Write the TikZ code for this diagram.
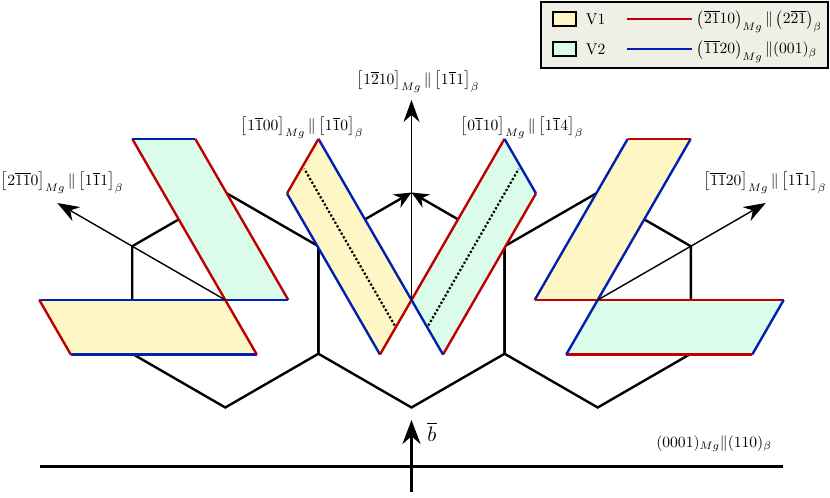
\documentclass[tikz,border=0pt]{standalone}
\usetikzlibrary{arrows.meta,calc}
\definecolor{vonefill}{HTML}{FFF6C6}
\definecolor{vtwofill}{HTML}{DCFCEB}
\definecolor{edgered}{HTML}{C00000}
\definecolor{edgeblue}{HTML}{0020B0}
\definecolor{legendfill}{HTML}{EEF0E6}
\begin{document}
\begin{tikzpicture}[x=0.5pt,y=0.5pt,
  hexline/.style={line width=1.2pt},
  hexarrow/.style={line width=1.2pt,-{Stealth[length=8.5pt,width=7.5pt]}},
  thinarrow/.style={line width=0.7pt,-{Stealth[length=11pt,width=8pt]}},
  thickline/.style={line width=1.6pt},
  plateedge/.style={line width=1.2pt},
  midline/.style={line width=1.1pt,densely dotted,shorten <=1pt,shorten >=1.5pt},
  lab/.style={inner sep=1pt,scale=0.78}]
\useasboundingbox (0,0) rectangle (830,498);

% hexagon centres and corners
\coordinate (cl) at (225.3,198);
\coordinate (cc) at (411.5,198);
\coordinate (cr) at (597.7,198);
\foreach \h in {cl,cc,cr}
  \foreach \a in {30,90,...,330}
    \coordinate (\h-\a) at ($(\h)+(\a:107.5)$);

\draw[hexline] (cl-30) -- (cl-90) -- (cl-150) -- (cl-210) -- (cl-270) -- (cl-330) -- cycle;
\draw[hexline] (cr-30) -- (cr-90) -- (cr-150) -- (cr-210) -- (cr-270) -- (cr-330) -- cycle;
\draw[hexline] (cc-150) -- (cc-210) -- (cc-270) -- (cc-330) -- (cc-30);
\draw[hexarrow] (cc-150) -- (cc-90);
\draw[hexarrow] (cc-30) -- (cc-90);

% plates: centre/long dir/short dir/fill/long edge/short edge
\def\plates{cl/120/0/vtwofill/edgered/edgeblue, cl/180/-60/vonefill/edgeblue/edgered,
  cc/120/240/vonefill/edgeblue/edgered, cc/60/300/vtwofill/edgered/edgeblue,
  cr/60/180/vonefill/edgeblue/edgered, cr/0/240/vtwofill/edgered/edgeblue}
\foreach \c/\l/\s/\f/\le/\se in \plates
  \fill[\f] (\c) -- ($(\c)+(\l:186)$) -- ($(\c)+(\l:186)+(\s:63)$) -- ($(\c)+(\s:63)$) -- cycle;
\foreach \c/\l/\s/\f/\le/\se in \plates{
  \draw[plateedge,draw=\le] (\c) -- ($(\c)+(\l:186)$) ($(\c)+(\s:63)$) -- ($(\c)+(\l:186)+(\s:63)$);
  \draw[plateedge,draw=\se] (\c) -- ($(\c)+(\s:63)$) ($(\c)+(\l:186)$) -- ($(\c)+(\l:186)+(\s:63)$);
}
\draw[midline] ($(cc)+(240:31.5)$) -- ($(cc)+(240:31.5)+(120:186)$);
\draw[midline] ($(cc)+(300:31.5)$) -- ($(cc)+(300:31.5)+(60:186)$);

% directions
\coordinate (tl) at ($(cl)+(150:194)$);
\coordinate (tc) at ($(cc)+(90:200)$);
\coordinate (tr) at ($(cr)+(30:194)$);
\draw[thinarrow] (cl) -- (tl);
\draw[thinarrow] (cc) -- (tc);
\draw[thinarrow] (cr) -- (tr);
\node[lab] (labl) at (62,315) {$\left[2\overline{11}0\right]_{Mg}\|\left[1\overline{1}1\right]_\beta$};
\node[lab] (labc) at (418,416) {$\left[1\overline{2}10\right]_{Mg}\|\left[1\overline{1}1\right]_\beta$};
\node[lab] (labr) at (765,315) {$\left[\overline{11}20\right]_{Mg}\|\left[1\overline{1}1\right]_\beta$};
\node[lab] (labvone) at (302,370) {$\left[1\overline{1}00\right]_{Mg}\|\left[1\overline{1}0\right]_\beta$};
\node[lab] (labvtwo) at (522,370) {$\left[0\overline{1}10\right]_{Mg}\|\left[1\overline{1}4\right]_\beta$};

% basal plane and b
\coordinate (bl) at (40,31.5);
\coordinate (br) at (783,31.5);
\coordinate (bb) at (411.5,6);
\coordinate (bt) at (411.5,78);
\draw[thickline] (bl) -- (br);
\draw[thickline,-{Stealth[length=12pt,width=9pt]}] (bb) -- (bt);
\node[inner sep=1pt,scale=1.05] (bvec) at (432,66) {$\overline{b}$};
\node[lab] (labbase) at (714,54) {$(0001)_{Mg}\|(110)_\beta$};

% legend
\filldraw[fill=legendfill,line width=0.8pt] (541,430) rectangle (828,496);
\filldraw[fill=vonefill,line width=0.6pt] (553,472) rectangle (576,486);
\filldraw[fill=vtwofill,line width=0.6pt] (553,442) rectangle (576,456);
\node[lab,anchor=west] (vone) at (584,479) {V1};
\node[lab,anchor=west] (vtwo) at (584,449) {V2};
\draw[plateedge,draw=edgered,line width=1.3pt] (627,479) -- (692,479);
\draw[plateedge,draw=edgeblue,line width=1.3pt] (627,449) -- (692,449);
\node[lab,anchor=west] (legone) at (695,476.5) {$\left(\overline{21}10\right)_{Mg}\|\left(2\overline{21}\right)_\beta$};
\node[lab,anchor=west] (legtwo) at (695,446.5) {$\left(\overline{11}20\right)_{Mg}\|(001)_\beta$};
\end{tikzpicture}
\end{document}
